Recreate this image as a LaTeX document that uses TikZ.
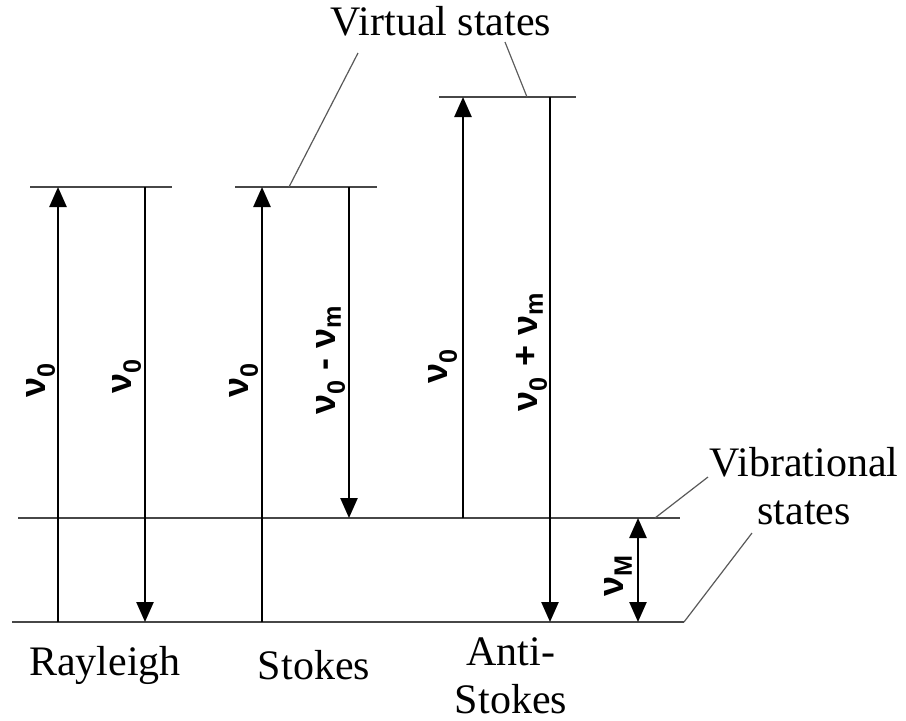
\documentclass[tikz,border=0pt]{standalone}
\usepackage{fontspec}
\setmainfont{Liberation Serif}
\newfontfamily\grk{Liberation Sans}
\usetikzlibrary{arrows.meta}
\begin{document}
\begin{tikzpicture}[x=1pt,y=-1pt,
  level/.style={draw=black!72, line width=2pt},
  lead/.style={draw=black!65, line width=1.2pt},
  arr/.style={draw=black, line width=2.5pt, -{Triangle[length=20pt,width=17pt]}},
  darr/.style={draw=black, line width=2.5pt, {Triangle[length=20pt,width=17pt]}-{Triangle[length=20pt,width=17pt]}},
  lbl/.style={font=\grk\bfseries\fontsize{36}{40}\selectfont, rotate=90, inner sep=0pt},
  txt/.style={font=\fontsize{42}{48}\selectfont, inner sep=0pt, align=center}]
\useasboundingbox (0,0) rectangle (906,721);
% level lines
\coordinate (gL) at (12,622);   \coordinate (gR) at (684,622);
\coordinate (vL) at (18,518);   \coordinate (vR) at (680,518);
\coordinate (r1L) at (30,187);  \coordinate (r1R) at (172,187);
\coordinate (s1L) at (235,187); \coordinate (s1R) at (377,187);
\coordinate (a1L) at (439,97);  \coordinate (a1R) at (576,97);
\draw[level] (gL) -- (gR);
\draw[level] (vL) -- (vR);
\draw[level] (r1L) -- (r1R);
\draw[level] (s1L) -- (s1R);
\draw[level] (a1L) -- (a1R);
% arrow end points
\coordinate (ra0) at (58,622);  \coordinate (ra1) at (58,187);
\coordinate (rb1) at (145,187); \coordinate (rb0) at (145,622);
\coordinate (sa0) at (262,622); \coordinate (sa1) at (262,187);
\coordinate (sb1) at (349,187); \coordinate (sb0) at (349,518);
\coordinate (aa0) at (463,518); \coordinate (aa1) at (463,97);
\coordinate (ab1) at (550,97);  \coordinate (ab0) at (550,622);
\coordinate (m1) at (638,518);  \coordinate (m0) at (638,622);
\draw[arr] (ra0) -- (ra1);
\draw[arr] (rb1) -- (rb0);
\draw[arr] (sa0) -- (sa1);
\draw[arr] (sb1) -- (sb0);
\draw[arr] (aa0) -- (aa1);
\draw[arr] (ab1) -- (ab0);
\draw[darr] (m1) -- (m0);
% labels
\node[lbl] (l1) at (41,380) {ν\textsubscript{0}};
\node[lbl] (l2) at (127,376) {ν\textsubscript{0}};
\node[lbl] (l3) at (244,380) {ν\textsubscript{0}};
\node[lbl] (l4) at (331,360) {ν\textsubscript{0} - ν\textsubscript{m}};
\node[lbl] (l5) at (443,366) {ν\textsubscript{0}};
\node[lbl] (l6) at (532,352) {ν\textsubscript{0} + ν\textsubscript{m}};
\node[lbl] (l7) at (618,576) {ν\textsubscript{M}};
% texts
\node[txt, anchor=base] (vs) at (441,35) {Virtual states};
\node[txt, anchor=south] (vib) at (804,525) {Vibrational\\states};
\node[txt, anchor=base] (ray) at (105,675) {Rayleigh};
\node[txt, anchor=base] (sto) at (314,679) {Stokes};
\node[txt, anchor=south] (ast) at (511,714) {Anti-\\Stokes};
% leaders
\coordinate (vsl) at (358,53); \coordinate (vsl0) at (289,187);
\coordinate (vsr) at (505,42); \coordinate (vsr0) at (527,97);
\coordinate (vb1) at (708,477); \coordinate (vb10) at (655,518);
\coordinate (vb2) at (752,533); \coordinate (vb20) at (684,622);
\draw[lead] (vsl) -- (vsl0);
\draw[lead] (vsr) -- (vsr0);
\draw[lead] (vb1) -- (vb10);
\draw[lead] (vb2) -- (vb20);
\end{tikzpicture}
\end{document}
